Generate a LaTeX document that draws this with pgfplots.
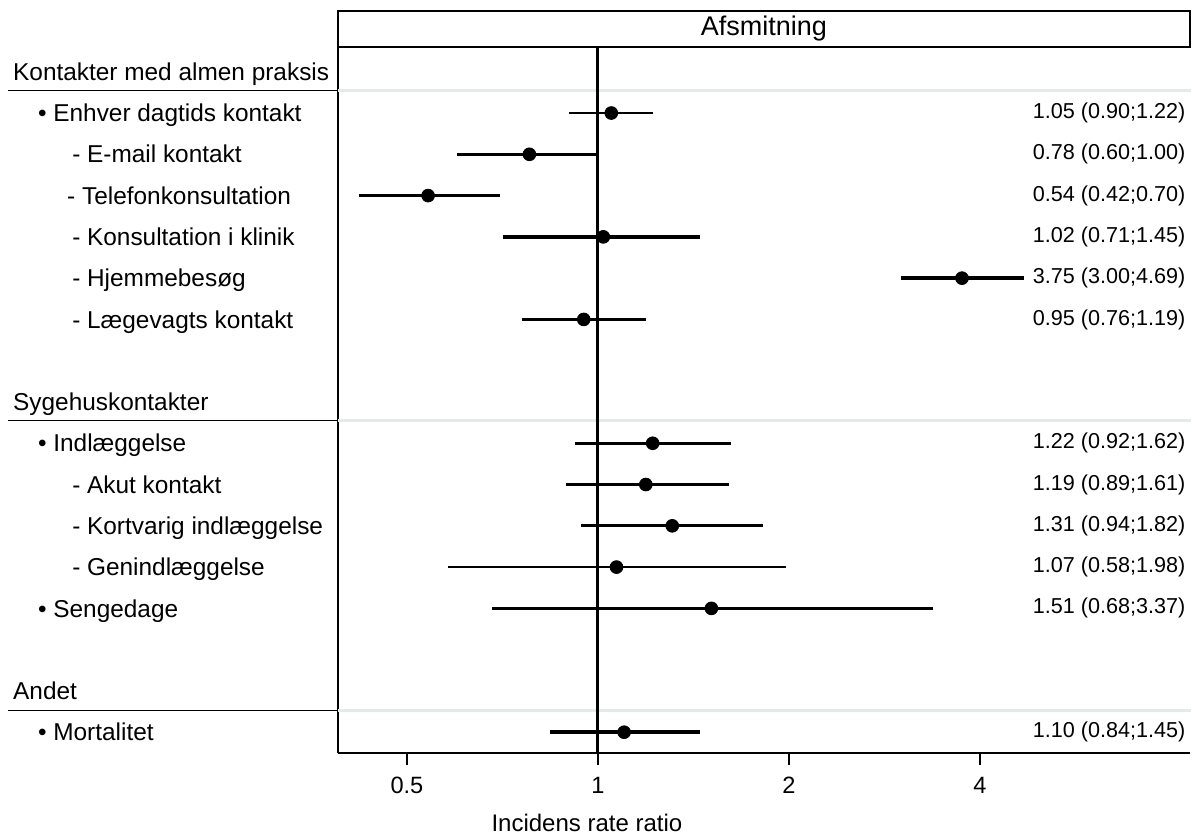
\documentclass[border=0pt]{standalone}
\usepackage{fontspec}
\setmainfont{Liberation Sans}
\usepackage{pgfplots}
\pgfplotsset{compat=1.18}
\definecolor{sepgray}{HTML}{E4EAEA}
\newcommand{\lab}{\fontsize{12.2}{14}\selectfont}
\newcommand{\rlab}{\fontsize{10.8}{12}\selectfont}
\begin{document}
\begin{tikzpicture}[lbl/.style={anchor=base west, inner sep=0, font=\lab}]
\begin{axis}[
  at={(0,0)}, anchor=south west,
  scale only axis, width=426pt, height=353pt,
  xmode=log, log basis x=2, xmin=0.3893, xmax=8.571,
  ymin=-0.6, ymax=16.5, y dir=reverse,
  axis x line*=bottom, axis y line*=left,
  axis line style={line width=1pt, -},
  ytick=\empty,
  xtick={0.5,1,2,4}, xticklabels={0.5,1,2,4},
  tick align=outside, major tick length=6pt,
  tick style={line width=0.8pt, black},
  ticklabel style={font=\fontsize{11.8}{13}\selectfont},
  xticklabel style={yshift=-2.5pt},
  /pgf/number format/assume math mode=true,
  clip=false,
]
% section separators
\draw[sepgray, line width=1.3pt] (axis cs:0.3893,0.45) -- (axis cs:8.6,0.45);
\draw[sepgray, line width=1.3pt] (axis cs:0.3893,8.45) -- (axis cs:8.6,8.45);
\draw[sepgray, line width=1.3pt] (axis cs:0.3893,15.48) -- (axis cs:8.6,15.48);
\draw[line width=0.7pt] (axis cs:0.1176,0.45) -- (axis cs:0.3893,0.45);
\draw[line width=0.7pt] (axis cs:0.1176,8.45) -- (axis cs:0.3893,8.45);
\draw[line width=0.7pt] (axis cs:0.1176,15.48) -- (axis cs:0.3893,15.48);

% reference line
\addplot[black, line width=1.5pt] coordinates {(1,-0.6) (1,16.5)};

% confidence intervals
\addplot[black, line width=1.4pt] coordinates {(0.90,1) (1.22,1)};
\addplot[black, line width=1.6pt] coordinates {(0.60,2) (1.00,2)};
\addplot[black, line width=1.7pt] coordinates {(0.42,3) (0.70,3)};
\addplot[black, line width=2.0pt] coordinates {(0.71,4) (1.45,4)};
\addplot[black, line width=1.8pt] coordinates {(3.00,5) (4.69,5)};
\addplot[black, line width=1.7pt] coordinates {(0.76,6) (1.19,6)};
\addplot[black, line width=1.4pt] coordinates {(0.92,9) (1.62,9)};
\addplot[black, line width=1.4pt] coordinates {(0.89,10) (1.61,10)};
\addplot[black, line width=1.5pt] coordinates {(0.94,11) (1.82,11)};
\addplot[black, line width=1.3pt] coordinates {(0.58,12) (1.98,12)};
\addplot[black, line width=1.4pt] coordinates {(0.68,13) (3.37,13)};
\addplot[black, line width=1.8pt] coordinates {(0.84,16) (1.45,16)};

% point estimates
\addplot[only marks, mark=*, mark size=3.2pt, black] coordinates {
  (1.05,1) (0.78,2) (0.54,3) (1.02,4) (3.75,5) (0.95,6)
  (1.22,9) (1.19,10) (1.31,11) (1.07,12) (1.51,13) (1.10,16)};

% left labels
\node[lbl] at (axis cs:0.1196,0.21) {Kontakter med almen praksis};
\node[lbl] at (axis cs:0.1309,1.21) {\textbullet\ Enhver dagtids kontakt};
\node[lbl] at (axis cs:0.1482,2.21) {- E-mail kontakt};
\node[lbl] at (axis cs:0.1455,3.21) {- Telefonkonsultation};
\node[lbl] at (axis cs:0.1482,4.21) {- Konsultation i klinik};
\node[lbl] at (axis cs:0.1482,5.21) {- Hjemmebesøg};
\node[lbl] at (axis cs:0.1482,6.21) {- Lægevagts kontakt};
\node[lbl] at (axis cs:0.1196,8.21) {Sygehuskontakter};
\node[lbl] at (axis cs:0.1309,9.21) {\textbullet\ Indlæggelse};
\node[lbl] at (axis cs:0.1482,10.21) {- Akut kontakt};
\node[lbl] at (axis cs:0.1482,11.21) {- Kortvarig indlæggelse};
\node[lbl] at (axis cs:0.1482,12.21) {- Genindlæggelse};
\node[lbl] at (axis cs:0.1309,13.21) {\textbullet\ Sengedage};
\node[lbl] at (axis cs:0.1196,15.21) {Andet};
\node[lbl] at (axis cs:0.1309,16.21) {\textbullet\ Mortalitet};

% right labels
\node[anchor=east, inner sep=0, font=\rlab] at (axis cs:8.45,1) {1.05 (0.90;1.22)};
\node[anchor=east, inner sep=0, font=\rlab] at (axis cs:8.45,2) {0.78 (0.60;1.00)};
\node[anchor=east, inner sep=0, font=\rlab] at (axis cs:8.45,3) {0.54 (0.42;0.70)};
\node[anchor=east, inner sep=0, font=\rlab] at (axis cs:8.45,4) {1.02 (0.71;1.45)};
\node[anchor=east, inner sep=0, font=\rlab] at (axis cs:8.45,5) {3.75 (3.00;4.69)};
\node[anchor=east, inner sep=0, font=\rlab] at (axis cs:8.45,6) {0.95 (0.76;1.19)};
\node[anchor=east, inner sep=0, font=\rlab] at (axis cs:8.45,9) {1.22 (0.92;1.62)};
\node[anchor=east, inner sep=0, font=\rlab] at (axis cs:8.45,10) {1.19 (0.89;1.61)};
\node[anchor=east, inner sep=0, font=\rlab] at (axis cs:8.45,11) {1.31 (0.94;1.82)};
\node[anchor=east, inner sep=0, font=\rlab] at (axis cs:8.45,12) {1.07 (0.58;1.98)};
\node[anchor=east, inner sep=0, font=\rlab] at (axis cs:8.45,13) {1.51 (0.68;3.37)};
\node[anchor=east, inner sep=0, font=\rlab] at (axis cs:8.45,16) {1.10 (0.84;1.45)};
\end{axis}
% header strip
\draw[line width=1pt] (0,353pt) rectangle (426pt,371pt);
\node[font=\fontsize{13.5}{15}\selectfont] at (213pt,362pt) {Afsmitning};
% x label
\node[font=\fontsize{12}{14}\selectfont] at (124.5pt,-35pt) {Incidens rate ratio};
\path[use as bounding box] (-169pt,-41pt) rectangle (427pt,376.5pt);
\end{tikzpicture}
\end{document}
